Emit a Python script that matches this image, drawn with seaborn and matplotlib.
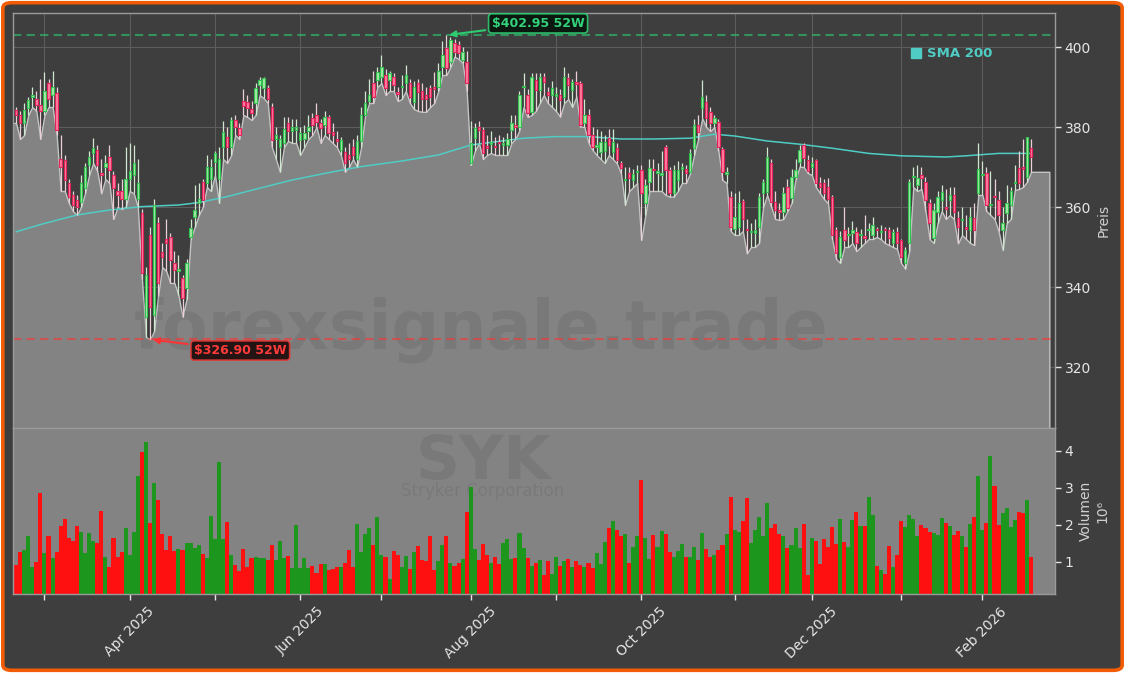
import numpy as np
import pandas as pd
import matplotlib
matplotlib.use("Agg")
import matplotlib.pyplot as plt
import seaborn as sns
from matplotlib.lines import Line2D
from matplotlib.patches import FancyBboxPatch

# trading calendar (NYSE holidays inside the window)
HOLIDAYS = ["2025-04-18", "2025-05-26", "2025-06-19", "2025-07-04", "2025-09-01",
            "2025-11-27", "2025-12-25", "2026-01-01", "2026-01-19", "2026-02-16"]
dates = pd.bdate_range("2025-02-20", "2026-02-19", freq="C", holidays=HOLIDAYS)

opens = [
    384.2, 383, 381, 384.7, 387.5, 386.9, 385.5, 384, 391, 388,
    388.4, 372, 371.75, 366, 363, 361.75, 361.3, 364.7, 370.5, 373.4,
    374.3, 368.5, 370.1, 372.6, 368, 364, 364, 362, 367, 368,
    362, 358.4, 332.6, 353, 333, 356, 348.8, 352, 352.6, 345.9,
    344, 342.2, 339.7, 352.6, 357.6, 361, 366.3, 366, 367, 371.3,
    367, 375, 377.5, 375, 381.75, 379.7, 386.5, 386.3, 384.4, 385.9,
    390.5, 389.7, 389.7, 385, 377, 375, 376, 381, 379, 379.25,
    376.75, 377, 379, 382.2, 383, 380.9, 380.5, 382.4, 378.8, 377,
    374.25, 373.8, 373, 375, 372, 376.5, 383, 386.5, 390.9, 391.75,
    392.6, 393, 391.75, 392.6, 388.6, 390, 391.1, 390.9, 386.3, 391.1,
    389, 388, 389.7, 389.9, 390, 395, 399.7, 396.3, 400.9, 400.5,
    396.75, 396.3, 370.9, 377.2, 380, 379.25, 375.2, 375.8, 375.3, 376.3,
    375.5, 375.5, 379.25, 380.5, 380, 390, 388, 383.8, 391.75, 389.25,
    392.6, 388.8, 388, 387.8, 388, 387.6, 392.2, 389.25, 391, 390.9,
    381, 383, 378, 375, 373.8, 374, 377.2, 373.8, 374.7, 370.9,
    366.75, 368.6, 366.75, 368.7, 369.25, 360.9, 366.3, 369.4, 368.5, 368,
    375, 369.25, 363.4, 366.75, 369.6, 369.4, 368.8, 374.7, 380.5, 384.7,
    386.3, 383.8, 381, 381.3, 374.4, 368.3, 362.6, 354.6, 355, 361.5,
    354.4, 353.7, 353.4, 355.1, 363.4, 363.8, 370.9, 361.3, 359.25, 358.8,
    365, 362.2, 367.6, 371.3, 375.5, 371.75, 370, 371.75, 366, 366,
    365, 362.6, 354.25, 347.6, 354.25, 353, 353.4, 353.8, 352.9, 352.8,
    354.2, 353, 354.3, 353.7, 354.3, 354.25, 350.9, 353.8, 351.75, 346,
    350.9, 367.5, 365.5, 368, 366.3, 360.9, 352.2, 358.8, 361.75, 359.8,
    361.75, 362.9, 357.2, 356.7, 354.8, 354.25, 357.2, 363.5, 368, 368.4,
    360.4, 362.7, 361.75, 354.25, 358.4, 360.5, 366, 369.7, 369.8, 367.6,
    374.7]

highs = [
    385.1, 384, 386, 387.6, 390, 389, 392, 393.8, 392, 394,
    390, 378, 373, 367, 364, 363, 368, 371, 374, 377.2,
    375.5, 372, 373, 375.5, 369, 366, 367, 375, 376, 375.5,
    372, 359.5, 345, 355, 362, 357.5, 351, 357, 353.5, 349,
    348, 343, 347, 357, 365.5, 366, 367, 373, 372, 374,
    375, 381.6, 380, 382.5, 383, 381, 389.5, 388, 386.5, 391,
    392.5, 392.6, 390.6, 386, 380, 378, 382.5, 382.5, 382, 382,
    380, 380.5, 383, 383.5, 386, 382, 384, 383, 381, 379,
    377.5, 375, 376, 377, 378, 385, 389, 392, 394, 395,
    398, 394.5, 394, 393.5, 390, 393, 395.5, 392, 391.5, 392,
    391, 390, 390.5, 393.8, 396, 401.5, 402.95, 402.5, 402, 401.5,
    400, 399, 381.5, 381, 381.5, 380, 378, 379, 377.5, 378,
    377.5, 378.5, 383, 383, 389, 393.5, 389.5, 393.5, 393.5, 393.5,
    393.5, 390, 391.5, 390, 389.5, 395, 393.5, 392, 394, 391.5,
    387, 384.5, 380, 379.5, 379, 378, 379.5, 379.5, 376, 371.5,
    370, 370, 369.5, 370.5, 370.5, 367, 372, 372, 371, 374,
    375.5, 370, 370.5, 371.5, 371, 370.5, 374.5, 382, 383, 391.75,
    388, 385, 383, 382, 375, 370, 364, 363.5, 364, 362,
    357, 356, 357, 363.5, 367, 375, 372, 364, 361, 365,
    367, 369.5, 372, 375.5, 376, 373, 372.5, 372, 367.5, 367,
    367.2, 363, 355, 354, 360, 355, 356.5, 355, 354.5, 358,
    356, 357.5, 355, 355.5, 355, 355, 354.5, 355, 352, 350,
    367, 370, 370.5, 370, 367.5, 362, 361, 364, 365.5, 364.5,
    365, 365, 359, 360, 358, 360, 361, 375.9, 371.5, 370,
    369, 367, 364, 360, 365.5, 365, 370.5, 374, 377, 377.5,
    377]

lows = [
    381, 377, 378, 383, 385, 384, 377, 383, 385, 385,
    378, 364, 364, 361, 359, 358, 360, 363.5, 368, 371,
    369, 363.4, 367, 366, 357, 360, 359.5, 360, 364, 363.4,
    360, 342, 327.5, 326.9, 329, 338, 345, 344, 341, 341,
    338, 332.6, 337, 352, 355, 358, 360, 365, 364, 368,
    361, 372, 371, 373, 378, 377, 383, 382.5, 381.75, 383,
    388, 387.2, 386, 375, 372, 368.8, 375, 376.5, 376, 376,
    373, 375, 377, 378, 380, 376, 378, 377, 376, 375,
    373, 368.8, 370, 372, 370, 375, 383, 386, 386, 390,
    391, 388, 389, 389, 386.5, 387, 389, 386, 384.5, 384,
    383.8, 383.8, 385, 386, 389, 393, 393, 395, 397.6, 397,
    396, 389, 370.5, 374, 376, 372, 373, 373.5, 373, 373,
    373, 373, 376, 377, 379.25, 385, 382.5, 383, 384, 386,
    388, 386, 385, 384, 382.6, 386, 387, 385, 387.6, 380.1,
    380, 376, 374.25, 373, 372, 371, 373, 372, 370.9, 368.4,
    360.5, 364, 365, 366, 351.75, 358, 364, 364, 364, 364,
    363, 362.6, 362.6, 364, 366, 366, 368.4, 373, 377, 382.2,
    380, 379, 380, 374, 366.75, 366, 354, 353, 353, 354,
    348.4, 350, 350, 351, 360, 363, 360, 357, 356.75, 357,
    359, 361, 367, 370.1, 370, 368.5, 368, 365, 363.5, 362,
    360.9, 352, 347, 346, 350, 350, 351, 349, 350, 351,
    352, 352, 352.5, 352, 351, 350.5, 350, 349.5, 346, 344.6,
    349, 365, 364, 364.5, 359, 352, 351, 356, 359, 357,
    358, 357, 350.9, 353, 352, 351, 350.5, 363, 363, 359,
    358, 357, 354, 349.25, 356, 357, 364.25, 364.5, 365, 366.3,
    368.8]

closes = [
    383, 381, 384.2, 386.75, 388, 385.5, 384, 389, 387, 390,
    379.3, 370, 366.75, 362.6, 360.5, 360, 366.1, 370, 372.6, 374.7,
    370.5, 368, 370.9, 369.25, 364.7, 363, 362, 367, 369, 371,
    366, 343.4, 343, 335, 360.5, 341, 347.6, 351, 346.75, 344.25,
    344.5, 337.2, 345.9, 354.7, 359.3, 362, 361.75, 370, 370, 373.4,
    372, 378.8, 375, 381.75, 380.1, 378, 385.25, 384.7, 383.6, 389.7,
    391.75, 392.2, 386.9, 376.75, 378, 377, 379.5, 379, 380, 380.1,
    378.4, 378.5, 380, 380.5, 381.3, 379.7, 382.4, 378.4, 378, 376.5,
    376.75, 370.9, 372, 373, 376.5, 383, 386, 388, 387.6, 393.8,
    395.1, 389.7, 393.4, 390.5, 388.3, 390.2, 393, 387.6, 390, 388.8,
    387, 387, 387.6, 389.5, 394, 398, 394.7, 401.75, 398.8, 398.4,
    398.8, 390.9, 375.9, 379.7, 379.2, 373.4, 374.8, 376, 375, 376,
    376, 377, 380.9, 380, 388, 390.2, 383.4, 392.6, 389.25, 392.6,
    391.3, 388, 389.7, 388, 386.75, 392.6, 390.5, 391.3, 390.8, 380.5,
    383, 378, 375, 375.5, 376.3, 376.3, 375.5, 376.3, 371.75, 369.7,
    367, 367.2, 368.3, 368.9, 363.4, 365.5, 369.7, 369.2, 369, 368.5,
    369.25, 363.4, 369.25, 369.25, 369.7, 368.4, 373.4, 380.5, 378.8, 387.6,
    382.2, 381, 382.2, 375.1, 368.8, 368.5, 355.1, 357.6, 361, 357,
    354.2, 353.9, 354.3, 362.6, 366.3, 372.6, 361.3, 359.25, 358.8, 363.4,
    359.7, 367.6, 369.25, 374.25, 372.2, 369, 371, 366, 365, 363.4,
    362, 353, 348.4, 352.6, 351.75, 353.2, 354.25, 350.9, 353.1, 352.2,
    354.3, 355.5, 354.2, 353.9, 354.2, 352.2, 353.8, 350.9, 347.6, 349.25,
    366.3, 367.7, 367.2, 367.2, 361.75, 355.9, 359.25, 362.6, 363.8, 359.6,
    363, 358.8, 355.1, 356.8, 354.6, 357.6, 354.25, 369.5, 368.2, 360.5,
    360.6, 362.5, 358, 355.9, 360.9, 364, 366.2, 366, 369.6, 377.4,
    372.6]

# volume in millions of shares
volumes = [
    0.92, 1.28, 1.33, 1.69, 0.87, 1.01, 2.87, 1.24, 1.69, 1.12,
    1.28, 1.97, 2.16, 1.66, 1.58, 1.97, 1.81, 1.25, 1.77, 1.58,
    1.52, 2.39, 1.14, 0.87, 1.66, 1.14, 1.27, 1.93, 1.19, 1.81,
    3.31, 3.98, 4.23, 2.06, 3.13, 2.68, 1.75, 1.33, 1.69, 1.30,
    1.35, 1.33, 1.52, 1.52, 1.37, 1.46, 1.22, 1.12, 2.24, 1.63,
    3.71, 1.63, 2.09, 1.19, 0.92, 0.76, 1.35, 0.87, 1.12, 1.14,
    1.12, 1.10, 1.05, 1.46, 1.05, 1.57, 1.12, 1.16, 0.85, 2.00,
    0.85, 1.12, 0.85, 0.89, 0.71, 0.95, 0.95, 0.78, 0.80, 0.87,
    0.87, 0.98, 1.33, 0.87, 2.03, 1.28, 1.76, 1.91, 1.46, 2.21,
    1.19, 1.14, 0.53, 1.30, 1.19, 0.87, 1.16, 0.81, 1.27, 1.43,
    1.05, 1.03, 1.70, 0.78, 1.03, 1.46, 1.70, 0.96, 0.89, 0.96,
    1.08, 2.35, 3.02, 1.34, 1.05, 1.49, 1.19, 0.96, 1.14, 0.95,
    1.50, 1.62, 1.08, 1.12, 1.78, 1.39, 1.12, 0.90, 0.98, 1.05,
    0.65, 1.03, 0.68, 1.14, 0.90, 1.03, 1.08, 0.87, 1.03, 0.92,
    0.87, 0.96, 0.84, 1.24, 0.95, 1.53, 1.91, 2.10, 1.87, 1.69,
    1.75, 0.96, 1.40, 1.69, 3.22, 1.64, 1.08, 1.73, 1.40, 1.84,
    1.75, 1.27, 1.14, 1.30, 1.49, 1.14, 1.14, 1.40, 1.05, 1.78,
    1.35, 1.14, 1.19, 1.33, 1.46, 1.76, 2.75, 1.87, 1.82, 2.11,
    2.72, 1.50, 1.87, 2.21, 1.69, 2.59, 1.91, 2.03, 1.76, 1.70,
    1.38, 1.46, 1.93, 1.38, 2.03, 0.65, 1.65, 1.58, 0.95, 1.62,
    1.41, 1.95, 1.49, 2.16, 1.54, 1.41, 2.14, 2.35, 1.97, 1.97,
    2.75, 2.27, 0.90, 0.78, 0.68, 1.43, 0.87, 1.19, 2.11, 1.95,
    2.27, 2.16, 1.69, 2.00, 1.91, 1.82, 1.78, 1.72, 2.18, 2.05,
    1.97, 1.73, 1.84, 1.70, 1.40, 2.03, 2.22, 3.32, 1.87, 2.06,
    3.87, 3.04, 2.00, 2.32, 2.45, 1.95, 2.14, 2.35, 2.32, 2.68,
    1.14]

# 200-day simple moving average, read at selected sessions
sma_dates = ["2025-02-20", "2025-03-03", "2025-03-13", "2025-03-25", "2025-04-04",
             "2025-04-17", "2025-04-25", "2025-05-06", "2025-05-16", "2025-05-29",
             "2025-06-12", "2025-06-24", "2025-07-09", "2025-07-22", "2025-08-01",
             "2025-08-20", "2025-09-02", "2025-09-12", "2025-09-24", "2025-10-06",
             "2025-10-17", "2025-10-27", "2025-11-03", "2025-11-13", "2025-11-25",
             "2025-12-08", "2025-12-19", "2026-01-02", "2026-01-20", "2026-01-27",
             "2026-02-06", "2026-02-19"]
sma_values = [353.8, 355.9, 358.0, 359.25, 360.1, 360.5, 361.1, 362.6, 364.7, 366.75,
              368.8, 370.1, 371.5, 373.0, 375.5, 377.2, 377.6, 377.6, 377.0, 377.0,
              377.2, 378.2, 377.75, 376.5, 375.7, 374.7, 373.4, 372.8, 372.5, 372.8,
              373.4, 373.4]

TICKER = "SYK"
COMPANY = "Stryker Corporation"

# ---------------------------------------------------------------- styling
BG = "#3e3e3e"
FILL = "#838383"
UP_FACE, UP_EDGE = "#a8e8a8", "#2fc24f"
DN_FACE, DN_EDGE = "#ff7d9c", "#e3245c"
WICK = "#d6d6d6"
SMA_COLOR = "#4fcdc4"
TXT = "#e6e6e6"

sns.set_theme(style="dark", rc={"figure.facecolor": BG, "axes.facecolor": BG,
                                "text.color": TXT, "axes.labelcolor": "#d0d0d0",
                                "xtick.color": TXT, "ytick.color": TXT})
plt.rcParams["font.family"] = ["DejaVu Sans"]

o = np.array(opens)
h = np.array(highs)
l = np.array(lows)
c = np.array(closes)
v = np.array(volumes)
n = len(dates)
pos = np.arange(n)
up = c >= o

W, H = 1125, 673
fig = plt.figure(figsize=(W / 100, H / 100), dpi=100)
fig.patch.set_facecolor("white")
fig.add_artist(FancyBboxPatch((0.0025, 0.004), 0.995, 0.992,
                              boxstyle="round,pad=0,rounding_size=0.008",
                              transform=fig.transFigure, facecolor=BG,
                              edgecolor="#f25c05", linewidth=2.6, zorder=-10))

ax = fig.add_axes([13 / W, 1 - 428 / H, 1042 / W, 415 / H])
axv = fig.add_axes([13 / W, 1 - 594 / H, 1042 / W, 166 / H], sharex=ax)
ax.set_facecolor(BG)
axv.set_facecolor(FILL)

# ---------------------------------------------------------------- price panel
fill_pad = 4.5
fx = np.concatenate([[-1], pos, [n - 1 + fill_pad]])
fl = np.concatenate([[l[0]], l, [l[-1]]])
ax.fill_between(fx, fl, 250, facecolor=FILL, edgecolor="#c4c4c4", linewidth=1, zorder=1)

ax.text(0.449, 0.236, "forexsignale.trade", transform=ax.transAxes, fontsize=48,
        fontweight="bold", color="black", alpha=0.07, ha="center", va="center", zorder=1.5)

hi_i, lo_i = int(np.argmax(h)), int(np.argmin(l))
ax.axhline(h[hi_i], color="#2ecc71", alpha=0.6, lw=1.5, ls=(0, (4, 2.5)), zorder=2)
ax.axhline(l[lo_i], color="#ff3333", alpha=0.6, lw=1.5, ls=(0, (4, 2.5)), zorder=2)

sma_pos = dates.get_indexer(pd.to_datetime(sma_dates))
sns.lineplot(x=sma_pos, y=sma_values, ax=ax, color=SMA_COLOR, lw=1.1, zorder=2.5)

ax.vlines(pos, l, h, color=np.where(up, "#cfe8cf", "#ecd0d6"), lw=0.9, zorder=3)
body = np.maximum(np.abs(c - o), 0.35)
ax.bar(pos, body, bottom=np.minimum(o, c), width=0.6,
       color=np.where(up, UP_FACE, DN_FACE), edgecolor=np.where(up, UP_EDGE, DN_EDGE),
       linewidth=0.8, zorder=4)

ax.annotate(f"\\${h[hi_i]:.2f} 52W", xy=(hi_i, h[hi_i]), xytext=(66, 8.5),
            textcoords="offset points", ha="center", va="center", fontsize=9,
            fontweight="bold", color="#33d17a", zorder=6,
            bbox=dict(boxstyle="round,pad=0.25", fc="#06140b", ec="#2ecc71", lw=1.2, alpha=0.9),
            arrowprops=dict(arrowstyle="-|>", color="#2ecc71", lw=1.5, mutation_scale=9))
ax.annotate(f"\\${l[lo_i]:.2f} 52W", xy=(lo_i, l[lo_i]), xytext=(65, -8),
            textcoords="offset points", ha="center", va="center", fontsize=9,
            fontweight="bold", color="#ff3b3b", zorder=6,
            bbox=dict(boxstyle="round,pad=0.25", fc="#1a0808", ec="#e53935", lw=1.2, alpha=0.9),
            arrowprops=dict(arrowstyle="-|>", color="#ff3333", lw=1.5, mutation_scale=9))

leg = ax.legend(handles=[Line2D([], [], marker="s", color=SMA_COLOR, ls="none", markersize=7)],
                labels=["SMA 200"], loc="upper right", bbox_to_anchor=(0.945, 0.93),
                borderaxespad=0, frameon=False, handlelength=0.8, handletextpad=0.4,
                prop={"weight": "bold", "size": 9.5})
for t in leg.get_texts():
    t.set_color(SMA_COLOR)

ax.set_ylim(304.75, 408.5)
ax.set_yticks([320, 340, 360, 380, 400])
ax.yaxis.tick_right()
ax.yaxis.set_label_position("right")
ax.set_ylabel("Preis", fontsize=10, color="#d0d0d0")
ax.set_xlabel("")
ax.grid(True, color="#5d5d5d", lw=0.8, zorder=0)
ax.set_axisbelow(True)
ax.tick_params(axis="x", bottom=False, labelbottom=False)
ax.tick_params(axis="y", right=True, length=4, width=1, colors=TXT, labelsize=10, pad=3)

# ---------------------------------------------------------------- volume panel
vol_df = pd.DataFrame({"pos": pos, "vol": v, "dir": np.where(up, "up", "down")})
sns.barplot(data=vol_df, x="pos", y="vol", hue="dir", native_scale=True, dodge=False,
            palette={"up": "#1d961d", "down": "#ff1010"}, width=1.0, saturation=1,
            errorbar=None, legend=False, linewidth=0, ax=axv, zorder=2)

axv.text(0.451, 0.795, TICKER, transform=axv.transAxes, fontsize=44, fontweight="bold",
         color="black", alpha=0.07, ha="center", va="center", zorder=1)
axv.text(0.451, 0.62, COMPANY, transform=axv.transAxes, fontsize=12,
         color="black", alpha=0.07, ha="center", va="center", zorder=1)

axv.set_ylim(0.135, 4.62)
axv.set_yticks([1, 2, 3, 4])
axv.yaxis.tick_right()
axv.yaxis.set_label_position("right")
axv.set_ylabel("Volumen\n10⁶", fontsize=10, color="#d0d0d0", multialignment="center")
axv.set_xlabel("")
axv.grid(False)

month_pos = [i for i in range(1, n) if dates[i].month != dates[i - 1].month]
month_lbl = [dates[i].strftime("%b %Y") if dates[i].month % 2 == 0 else "" for i in month_pos]
axv.set_xticks(month_pos)
axv.set_xticklabels(month_lbl, rotation=45, ha="center", fontsize=10, color=TXT)
axv.tick_params(axis="x", bottom=True, length=4, width=1, colors=TXT)
axv.tick_params(axis="y", right=True, length=4, width=1, colors=TXT, labelsize=10, pad=3)
ax.set_xlim(-0.75, n - 1 + 5.9)

for a in (ax, axv):
    for s in a.spines.values():
        s.set_color("#9a9a9a")
        s.set_linewidth(1)

fig.savefig("out.png", dpi=100, facecolor=fig.get_facecolor())
